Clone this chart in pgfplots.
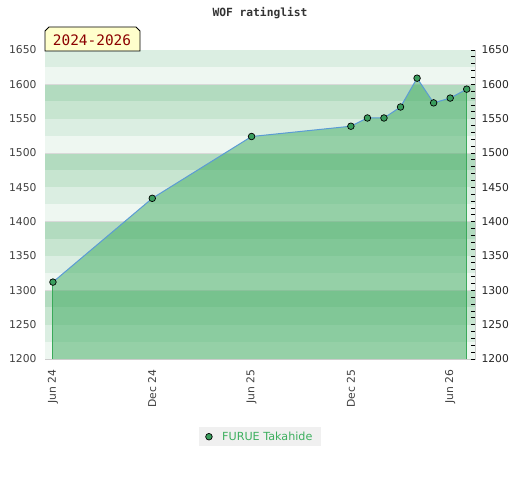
\documentclass[border=0pt]{standalone}
\usepackage{pgfplots}
\pgfplotsset{compat=1.18}
\usepackage{fontspec}
\setmainfont{DejaVu Sans}
\newfontfamily\monof{DejaVu Sans Mono}
\definecolor{bandA}{HTML}{B2DBBF}
\definecolor{bandB}{HTML}{C7E5D0}
\definecolor{bandC}{HTML}{DBEEE2}
\definecolor{bandD}{HTML}{EEF7F1}
\definecolor{fillg}{RGB}{61,171,95}
\definecolor{lineb}{HTML}{5B9BD5}
\definecolor{markg}{HTML}{3A9D5D}
\definecolor{edgeg}{HTML}{3AAA5A}
\definecolor{leggreen}{HTML}{3CAF5E}
\definecolor{tickc}{HTML}{404040}
\definecolor{tagbg}{HTML}{FFFFCC}
\definecolor{tagred}{HTML}{8B0000}
\begin{document}
\begin{tikzpicture}
\path[use as bounding box] (0,0) rectangle (520bp,480bp);
\begin{axis}[
  at={(45bp,121bp)}, anchor=south west,
  scale only axis, width=430bp, height=309bp,
  xmin=-0.48, xmax=25.5, ymin=1200, ymax=1650,
  xtick={0,6,12,18,24},
  xticklabels={Jun 24,Dec 24,Jun 25,Dec 25,Jun 26},
  ytick={1200,1250,...,1650},
  major tick length=0pt,
  tick label style={font=\fontsize{10.8}{12}\selectfont, text=tickc},
  /pgf/number format/assume math mode=true,
  /pgf/number format/1000 sep={},
  xticklabel style={rotate=90, anchor=east},
  xticklabel shift=7bp,
  yticklabel shift=5bp,
  axis line style={draw=black!20},
  legend style={at={(0.5,-0.2515)}, anchor=center, fill=black!6, draw=none,
    font=\fontsize{11.2}{13}\selectfont, text=leggreen, inner xsep=7bp, inner ysep=2.5bp,
    /tikz/every odd column/.append style={column sep=8bp}},
  legend cell align=left,
]
\fill[bandD] (axis cs:-1,1200) rectangle (axis cs:26,1225);
\fill[bandC] (axis cs:-1,1225) rectangle (axis cs:26,1250);
\fill[bandB] (axis cs:-1,1250) rectangle (axis cs:26,1275);
\fill[bandA] (axis cs:-1,1275) rectangle (axis cs:26,1300);
\fill[bandD] (axis cs:-1,1300) rectangle (axis cs:26,1325);
\fill[bandC] (axis cs:-1,1325) rectangle (axis cs:26,1350);
\fill[bandB] (axis cs:-1,1350) rectangle (axis cs:26,1375);
\fill[bandA] (axis cs:-1,1375) rectangle (axis cs:26,1400);
\fill[bandD] (axis cs:-1,1400) rectangle (axis cs:26,1425);
\fill[bandC] (axis cs:-1,1425) rectangle (axis cs:26,1450);
\fill[bandB] (axis cs:-1,1450) rectangle (axis cs:26,1475);
\fill[bandA] (axis cs:-1,1475) rectangle (axis cs:26,1500);
\fill[bandD] (axis cs:-1,1500) rectangle (axis cs:26,1525);
\fill[bandC] (axis cs:-1,1525) rectangle (axis cs:26,1550);
\fill[bandB] (axis cs:-1,1550) rectangle (axis cs:26,1575);
\fill[bandA] (axis cs:-1,1575) rectangle (axis cs:26,1600);
\fill[bandD] (axis cs:-1,1600) rectangle (axis cs:26,1625);
\fill[bandC] (axis cs:-1,1625) rectangle (axis cs:26,1650);
\draw[black!15, line width=0.8bp] (axis cs:-1,1300) -- (axis cs:26,1300);
\draw[black!15, line width=0.8bp] (axis cs:-1,1400) -- (axis cs:26,1400);
\draw[black!15, line width=0.8bp] (axis cs:-1,1500) -- (axis cs:26,1500);
\draw[black!15, line width=0.8bp] (axis cs:-1,1600) -- (axis cs:26,1600);
\addplot[draw=none, fill=fillg, fill opacity=0.5, forget plot] coordinates {
(0,1312)(6,1434)(12,1524)(18,1539)(19,1551)(20,1551)(21,1567)(22,1609)(23,1573)(24,1580)(25,1593)
} \closedcycle;
\addplot[edgeg, line width=1bp, forget plot] coordinates {(0,1200)(0,1312)};
\addplot[edgeg, line width=1bp, forget plot] coordinates {(25,1200)(25,1593)};
\addplot[lineb, line width=1bp, forget plot] coordinates {
(0,1312)(6,1434)(12,1524)(18,1539)(19,1551)(20,1551)(21,1567)(22,1609)(23,1573)(24,1580)(25,1593)
};
\addplot[only marks, mark=*, mark size=3.3bp, mark options={fill=markg, draw=black, line width=0.7bp}] coordinates {
(0,1312)(6,1434)(12,1524)(18,1539)(19,1551)(20,1551)(21,1567)(22,1609)(23,1573)(24,1580)(25,1593)
};
\addlegendentry{FURUE Takahide}
\end{axis}
\begin{axis}[
  at={(45bp,121bp)}, anchor=south west,
  scale only axis, width=430bp, height=309bp,
  xmin=-0.48, xmax=25.5, ymin=1200, ymax=1650,
  axis x line=none,
  axis y line*=right,
  y axis line style={draw=none},
  ytick={1200,1250,...,1650},
  minor y tick num=4,
  tick align=inside,
  major tick length=4bp, minor tick length=4bp,
  every tick/.style={black, line width=0.8bp},
  tick label style={font=\fontsize{10.8}{12}\selectfont, text=black!85},
  /pgf/number format/assume math mode=true,
  /pgf/number format/1000 sep={},
  yticklabel shift=3bp,
]
\addplot[draw=none] coordinates {(0,1300)};
\end{axis}
\node[font=\monof\bfseries\fontsize{11.3}{12}\selectfont, text=black!80] at (260bp,467bp) {WOF ratinglist};
\draw[black, line width=0.8bp, fill=tagbg] (45bp,429bp) -- (45bp,449bp) -- (49bp,453bp) -- (136bp,453bp) -- (140bp,449bp) -- (140bp,429bp) -- cycle;
\node[font=\monof\fontsize{14.5}{16}\selectfont, text=tagred] at (92bp,440bp) {2024-2026};
\end{tikzpicture}
\end{document}
